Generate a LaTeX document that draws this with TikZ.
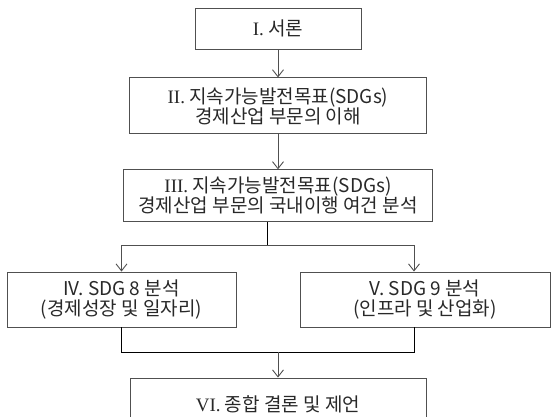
\documentclass[tikz,border=0pt]{standalone}
\usepackage{fontspec}
\setmainfont{Noto Sans CJK KR}
\newfontfamily\numfont{Liberation Serif}
\usetikzlibrary{positioning}
\usetikzlibrary{arrows.meta}
\definecolor{linegray}{RGB}{80,80,80}
\definecolor{textgray}{RGB}{40,40,40}

\begin{document}
\begin{tikzpicture} [x=1pt, y=1pt, line width=0.9pt,
    box/.style = {draw=linegray, rectangle, align=center, inner sep=0pt, text=textgray, font=\fontsize{19}{20}\selectfont},
    arr/.style = {-{Straight Barb[length=7pt, width=11pt]}, draw=linegray}]
        \useasboundingbox (0,0) rectangle (552,-417);

        %Kaesten
        \node[box, minimum width=166pt, minimum height=41pt] (one) at (278,-28.5) {{\numfont I.} 서론};
        \node[box, minimum width=297pt, minimum height=56pt] (two) [below = 28pt of one] {{\numfont II.} 지속가능발전목표(SDGs)\\경제산업 부문의 이해};
        \node[box, minimum width=309pt, minimum height=52pt] (three) [below = 35pt of two] {{\numfont III.} 지속가능발전목표(SDGs)\\경제산업 부문의 국내이행 여건 분석};

        \node[box, minimum width=229pt, minimum height=55pt] (four) at (121.5,-299.5) {IV. SDG 8 분석\\(경제성장 및 일자리)};
        \node[box, minimum width=250pt, minimum height=55pt] (five) at (425,-299.5) {V. SDG 9 분석\\(인프라 및 산업화)};

        \node[box, minimum width=296pt, minimum height=52pt] (six) at (278,-404) {{\numfont VI.} 종합 결론 및 제언};

        \coordinate (split) at (267.5,-245);
        \coordinate (join) at (278,-352);
        \coordinate (fivein) at ([xshift=-11pt]five.north);
        \coordinate (fiveout) at ([xshift=-11pt]five.south);

        %Verbindungen
        \draw[arr] (one) -- (two);
        \draw[arr] (two) -- (three);

        \draw (three.south -| split) -- (split);
        \draw[arr] (split) -| (four.north);
        \draw[arr] (split) -| (fivein);

        \draw (four.south) |- (join);
        \draw (fiveout) |- (join);
        \draw[arr] (join) -- (six);

    \end{tikzpicture}
\end{document}
